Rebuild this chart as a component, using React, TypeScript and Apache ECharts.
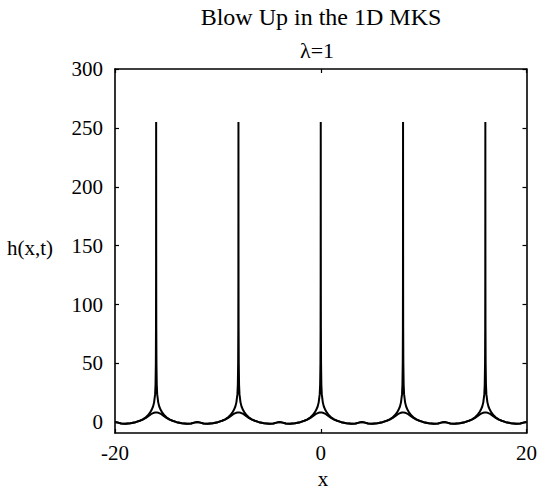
import React, { useEffect, useRef } from "react";
import * as echarts from "echarts";

// Peak (blow-up) locations
const spikeCenters = [-16, -8, 0, 8, 16];

// One period of the profile, offsets from a peak centre (x units)
const profileOffsets = [
  -4.0, -3.7, -3.4, -3.0, -2.5, -2.0, -1.6, -1.3, -1.0, -0.8, -0.6, -0.45, -0.3, -0.2, -0.1, -0.06, -0.03, -0.015, -0.008, -0.004,
  0,
  0.004, 0.008, 0.015, 0.03, 0.06, 0.1, 0.2, 0.3, 0.45, 0.6, 0.8, 1.0, 1.3, 1.6, 2.0, 2.5, 3.0, 3.4, 3.7, 4.0,
];

// Later time: sharp spike
const spikeProfile = [
  0.4, -0.2, -1.0, -1.2, -0.7, 0.2, 1.4, 2.6, 4.3, 6.0, 8.2, 10.5, 13.5, 17, 24, 32, 50, 80, 120, 180,
  255,
  180, 120, 80, 50, 32, 24, 17, 13.5, 10.5, 8.2, 6.0, 4.3, 2.6, 1.4, 0.2, -0.7, -1.2, -1.0, -0.2, 0.4,
];

// Earlier time: smooth low profile
const lowerProfile = [
  0.4, -0.2, -1.0, -1.2, -0.7, 0.2, 1.3, 2.4, 3.8, 5.0, 6.3, 7.3, 7.9, 8.2, 8.4, 8.5, 8.5, 8.5, 8.5, 8.5,
  8.5,
  8.5, 8.5, 8.5, 8.5, 8.5, 8.4, 8.2, 7.9, 7.3, 6.3, 5.0, 3.8, 2.4, 1.3, 0.2, -0.7, -1.2, -1.0, -0.2, 0.4,
];

const xTicks = [-20, 0, 20];
const yTicks = [0, 50, 100, 150, 200, 250, 300];

function buildSeries(profile: number[]): number[][] {
  const out: number[][] = [];
  spikeCenters.forEach((c, ci) => {
    profileOffsets.forEach((d, i) => {
      if (ci > 0 && i === 0) return;
      out.push([c + d, profile[i]]);
    });
  });
  return out;
}

const FONT = "Liberation Serif";

export default function App() {
  const ref = useRef<HTMLDivElement>(null);
  useEffect(() => {
    if (!ref.current) return;
    const chart = echarts.init(ref.current, undefined, { renderer: "svg" });
    const axisLine = { show: true, onZero: false, lineStyle: { color: "#000", width: 1.6 } };
    const tick = { show: true, inside: true, length: 4, lineStyle: { color: "#000", width: 1.2 } };
    const label = { color: "#000", fontSize: 21, fontFamily: FONT };
    chart.setOption({
      animation: false,
      backgroundColor: "#fff",
      grid: { left: 115, right: 11, top: 69, bottom: 57, containLabel: false },
      xAxis: [
        {
          type: "value",
          min: -20,
          max: 20,
          interval: 20,
          axisLine,
          axisTick: { ...tick, customValues: xTicks },
          axisLabel: { ...label, margin: 9, customValues: xTicks },
          splitLine: { show: false },
        },
        {
          type: "value",
          position: "top",
          min: -20,
          max: 20,
          interval: 20,
          axisLine,
          axisTick: { ...tick, customValues: xTicks },
          axisLabel: { show: false },
          splitLine: { show: false },
        },
      ],
      yAxis: [
        {
          type: "value",
          min: -9,
          max: 300,
          axisLine,
          axisTick: { ...tick, customValues: yTicks },
          axisLabel: { ...label, margin: 12, customValues: yTicks },
          splitLine: { show: false },
        },
        {
          type: "value",
          position: "right",
          min: -9,
          max: 300,
          axisLine,
          axisTick: { ...tick, customValues: yTicks },
          axisLabel: { show: false },
          splitLine: { show: false },
        },
      ],
      graphic: [
        {
          type: "text",
          x: 321,
          y: 17,
          style: {
            text: "Blow Up in the 1D MKS",
            fontSize: 24,
            fontFamily: FONT,
            fill: "#000",
            align: "center",
            verticalAlign: "middle",
          },
        },
        {
          type: "text",
          x: 317,
          y: 50,
          style: {
            text: "λ=1",
            fontSize: 22,
            fontFamily: FONT,
            fill: "#000",
            align: "center",
            verticalAlign: "middle",
          },
        },
        {
          type: "text",
          x: 30,
          y: 248,
          style: {
            text: "h(x,t)",
            fontSize: 21,
            fontFamily: FONT,
            fill: "#000",
            align: "center",
            verticalAlign: "middle",
          },
        },
        {
          type: "text",
          x: 323,
          y: 489,
          style: {
            text: "x",
            fontSize: 21,
            fontFamily: FONT,
            fill: "#000",
            align: "center",
            verticalAlign: "bottom",
          },
        },
      ],
      series: [
        {
          type: "line",
          data: buildSeries(lowerProfile),
          showSymbol: false,
          smooth: false,
          lineStyle: { color: "#000", width: 2 },
        },
        {
          type: "line",
          data: buildSeries(spikeProfile),
          showSymbol: false,
          smooth: false,
          lineStyle: { color: "#000", width: 2 },
        },
      ],
    });
    return () => chart.dispose();
  }, []);
  return (
    <div
      ref={ref}
      style={{ position: "fixed", left: 0, top: 0, width: 540, height: 490, background: "#fff" }}
    />
  );
}
